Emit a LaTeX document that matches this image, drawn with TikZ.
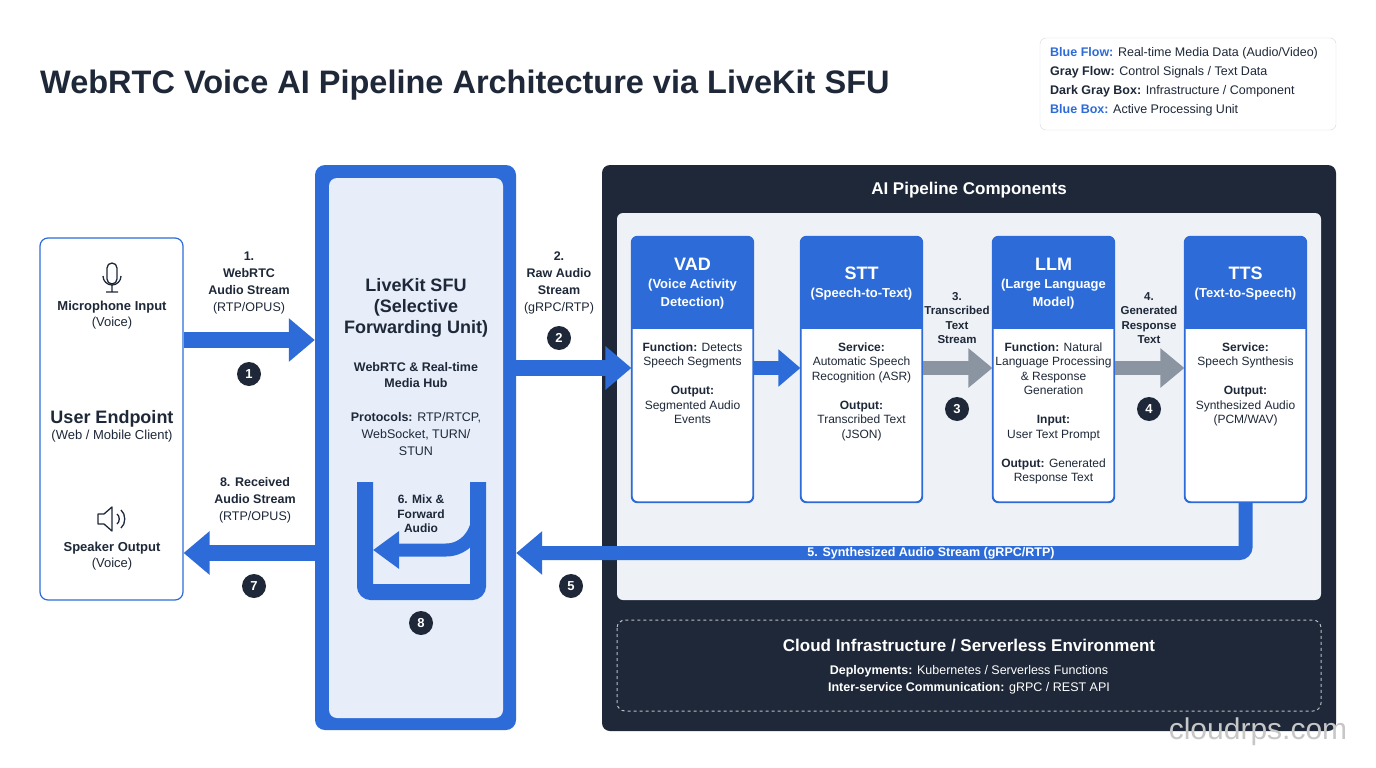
\documentclass[tikz,border=0pt]{standalone}
\usepackage{fontspec}
\setmainfont{Liberation Sans}
\usetikzlibrary{arrows.meta}
\usetikzlibrary{calc}
\usetikzlibrary{positioning}
\definecolor{MediaBlue}{HTML}{2D6CD8}
\definecolor{HubBlue}{HTML}{E7EEFA}
\definecolor{DarkNavy}{HTML}{1E2838}
\definecolor{PanelGray}{HTML}{EEF1F5}
\definecolor{FlowGray}{HTML}{8B94A1}
\definecolor{LineGray}{HTML}{D5DAE2}
\tikzset{
  txt/.style={font=\fontsize{12}{14.5}\selectfont, align=center, text=DarkNavy, inner sep=0pt},
  head/.style={font=\bfseries\fontsize{16}{18}\selectfont, align=center, text=white, inner sep=0pt},
  stepnum/.style={circle, fill=DarkNavy, minimum size=24pt, inner sep=0pt,
    text=white, font=\bfseries\fontsize{13}{13}\selectfont},
  stagebox/.style={draw=MediaBlue, line width=1.2pt, fill=white, rounded corners=6pt,
    minimum width=121pt, minimum height=265pt},
  blueflow/.style={draw=MediaBlue, line width=16pt, -{Triangle[length=26pt,width=42pt]}},
  grayflow/.style={draw=FlowGray, line width=16pt, -{Triangle[length=26pt,width=42pt]}},
}
% one processing stage of the AI pipeline
\newcommand{\aistage}[4]{%
  \node[stagebox] (#1) at (#2+60.5,369.5) {};
  \begin{scope}
    \clip[rounded corners=6pt] (#1.south west) rectangle (#1.north east);
    \fill[MediaBlue] (#1.north west) rectangle ($(#1.north east)+(0,93)$);
  \end{scope}
  \draw[MediaBlue, line width=1.2pt, rounded corners=6pt] (#1.south west) rectangle (#1.north east);
  \node[head] at ($(#1.north)+(0,47)$) {#3};
  \node[txt, anchor=north] at ($(#1.north)+(0,106)$) {#4};
}
\begin{document}
\begin{tikzpicture}[x=1pt, y=-1pt]
  \useasboundingbox[fill=white] (0,0) rectangle (1376,768);

  % title and legend
  \node[anchor=west, text=DarkNavy, font=\bfseries\fontsize{32.5}{33}\selectfont, inner sep=0pt]
    (title) at (40,85) {WebRTC Voice AI Pipeline Architecture via LiveKit SFU};
  \draw[LineGray, fill=white, rounded corners=6pt] (1040,38) rectangle (1336,130);
  \node[txt, anchor=north west, align=left, font=\fontsize{12.5}{19}\selectfont] (legend) at (1050,47)
    {\textbf{\color{MediaBlue}Blue Flow:} Real-time Media Data (Audio/Video)\\
     \textbf{Gray Flow:} Control Signals / Text Data\\
     \textbf{Dark Gray Box:} Infrastructure / Component\\
     \textbf{\color{MediaBlue}Blue Box:} Active Processing Unit};

  % user endpoint
  \node[draw=MediaBlue, line width=1.2pt, fill=white, rounded corners=8pt,
    minimum width=143pt, minimum height=362pt] (user) at (111.5,419) {};
  \draw[DarkNavy, line width=1.3pt, rounded corners=5pt] (107,263) rectangle (117,284);
  \draw[DarkNavy, line width=1.3pt] (103,276) arc[start angle=180, end angle=0, radius=9] (112,285) -- (112,292) (106,292) -- (118,292);
  \node[txt, font=\fontsize{13}{16}\selectfont] (mic) at (112,315) {\textbf{Microphone Input}\\(Voice)};
  \node[txt, font=\fontsize{13}{16}\selectfont] (endpoint) at (112,426) {{\bfseries\fontsize{18}{21}\selectfont User Endpoint}\\(Web / Mobile Client)};
  \draw[DarkNavy, line width=1.3pt, line join=round] (98,514) -- (104,514) -- (112,507) -- (112,531) -- (104,524) -- (98,524) -- cycle;
  \draw[DarkNavy, line width=1.3pt] (117,514) .. controls (120,516) and (120,522) .. (117,524);
  \draw[DarkNavy, line width=1.3pt] (121,510) .. controls (126,514) and (126,524) .. (121,528);
  \node[txt, font=\fontsize{13}{16}\selectfont] (speaker) at (112,556) {\textbf{Speaker Output}\\(Voice)};

  % LiveKit SFU
  \node[fill=MediaBlue, rounded corners=10pt, minimum width=201pt, minimum height=565pt] (sfu) at (415.5,447.5) {};
  \node[fill=HubBlue, rounded corners=8pt, minimum width=174pt, minimum height=540pt] (hub) at (416,448) {};
  \node[txt, font=\bfseries\fontsize{18}{21}\selectfont] (sfutitle) at (416,308) {LiveKit SFU\\(Selective\\Forwarding Unit)};
  \node[txt, font=\bfseries\fontsize{12.5}{16}\selectfont] (mediahub) at (416,375) {WebRTC \& Real-time\\Media Hub};
  \node[txt, font=\fontsize{12.5}{17}\selectfont] (protocols) at (416,434) {\textbf{Protocols:} RTP/RTCP,\\WebSocket, TURN/\\STUN};
  \draw[MediaBlue, line width=16pt, rounded corners=6pt] (365,482) -- (365,592) -- (478,592) -- (478,482);
  \coordinate (mixend) at (373,550);
  \draw[MediaBlue, line width=13pt, -{Triangle[length=26pt,width=36pt]}]
    (478,515) to[out=-90, in=0] (446,550) -- (mixend);
  \node[txt, font=\bfseries\fontsize{12}{14.5}\selectfont] (mix) at (421,514) {6. Mix \&\\Forward\\Audio};
  \node[stepnum] (s8) at (421,623) {8};

  % AI pipeline panel
  \node[fill=DarkNavy, rounded corners=8pt, minimum width=734pt, minimum height=566pt] (panel) at (969,448) {};
  \node[head, font=\bfseries\fontsize{17}{20}\selectfont] (paneltitle) at (969,190) {AI Pipeline Components};
  \node[fill=PanelGray, rounded corners=6pt, minimum width=704pt, minimum height=387pt] (pipe) at (969,406.5) {};
  \draw[white!70!DarkNavy, dashed, line width=1pt, rounded corners=8pt] (617,620) rectangle (1321,711);
  \node[head, font=\bfseries\fontsize{17}{20}\selectfont] (cloud) at (969,646) {Cloud Infrastructure / Serverless Environment};
  \node[txt, text=white, font=\fontsize{12.5}{17}\selectfont] (deploy) at (969,680)
    {\textbf{Deployments:} Kubernetes / Serverless Functions\\\textbf{Inter-service Communication:} gRPC / REST API};

  \aistage{vad}{632}{{\fontsize{18}{20}\selectfont VAD}\\{\fontsize{13}{16}\selectfont (Voice Activity}\\{\fontsize{13}{16}\selectfont Detection)}}
    {\textbf{Function:} Detects\\Speech Segments\\[14.5pt]\textbf{Output:}\\Segmented Audio\\Events}
  \aistage{stt}{801}{{\fontsize{18}{20}\selectfont STT}\\{\fontsize{13}{16}\selectfont (Speech-to-Text)}}
    {\textbf{Service:}\\Automatic Speech\\Recognition (ASR)\\[14.5pt]\textbf{Output:}\\Transcribed Text\\(JSON)}
  \aistage{llm}{993}{{\fontsize{18}{20}\selectfont LLM}\\{\fontsize{13}{16}\selectfont (Large Language}\\{\fontsize{13}{16}\selectfont Model)}}
    {\textbf{Function:} Natural\\Language Processing\\\& Response\\Generation\\[14.5pt]\textbf{Input:}\\User Text Prompt\\[14.5pt]\textbf{Output:} Generated\\Response Text}
  \aistage{tts}{1185}{{\fontsize{18}{20}\selectfont TTS}\\{\fontsize{13}{16}\selectfont (Text-to-Speech)}}
    {\textbf{Service:}\\Speech Synthesis\\[14.5pt]\textbf{Output:}\\Synthesized Audio\\(PCM/WAV)}

  % media and text flows
  \draw[blueflow] (user.east |- 0,340) -- (sfu.west |- 0,340);
  \node[txt, font=\fontsize{12.5}{17}\selectfont] (l1) at (249,283) {\textbf{1.}\\\textbf{WebRTC}\\\textbf{Audio Stream}\\(RTP/OPUS)};
  \node[stepnum] (s1) at (249,374) {1};

  \draw[blueflow] (sfu.east |- 0,368) -- (vad.west |- 0,368);
  \node[txt, font=\fontsize{12.5}{17}\selectfont] (l2) at (559,283) {\textbf{2.}\\\textbf{Raw Audio}\\\textbf{Stream}\\(gRPC/RTP)};
  \node[stepnum] (s2) at (559,338) {2};

  \draw[blueflow, line width=14pt, -{Triangle[length=22pt,width=36pt]}] (vad.east |- 0,368) -- (stt.west |- 0,368);
  \draw[grayflow, line width=14pt, -{Triangle[length=24pt,width=38pt]}] (stt.east |- 0,368) -- (llm.west |- 0,368);
  \node[txt, font=\bfseries\fontsize{11.5}{14.5}\selectfont] (l3) at (957,318) {3.\\Transcribed\\Text\\Stream};
  \node[stepnum] (s3) at (957,409) {3};
  \draw[grayflow, line width=14pt, -{Triangle[length=24pt,width=38pt]}] (llm.east |- 0,368) -- (tts.west |- 0,368);
  \node[txt, font=\bfseries\fontsize{11.5}{14.5}\selectfont] (l4) at (1149,318) {4.\\Generated\\Response\\Text};
  \node[stepnum] (s4) at (1149,409) {4};

  \coordinate (ret) at (sfu.east |- 0,553);
  \draw[blueflow, line width=14pt, rounded corners=6pt] (tts.south) |- (ret);
  \node[head, font=\bfseries\fontsize{12.5}{14}\selectfont] (l5) at (931,553) {5. Synthesized Audio Stream (gRPC/RTP)};
  \node[stepnum] (s5) at (571,586) {5};

  \draw[blueflow] (sfu.west |- 0,553) -- (user.east |- 0,553);
  \node[txt, font=\fontsize{12.5}{17}\selectfont] (l7) at (255,500) {\textbf{8. Received}\\\textbf{Audio Stream}\\(RTP/OPUS)};
  \node[stepnum] (s7) at (254,586) {7};

  \node[text=black!22, font=\fontsize{30}{30}\selectfont, inner sep=0pt] (mark) at (1258,732) {cloudrps.com};
\end{tikzpicture}
\end{document}
